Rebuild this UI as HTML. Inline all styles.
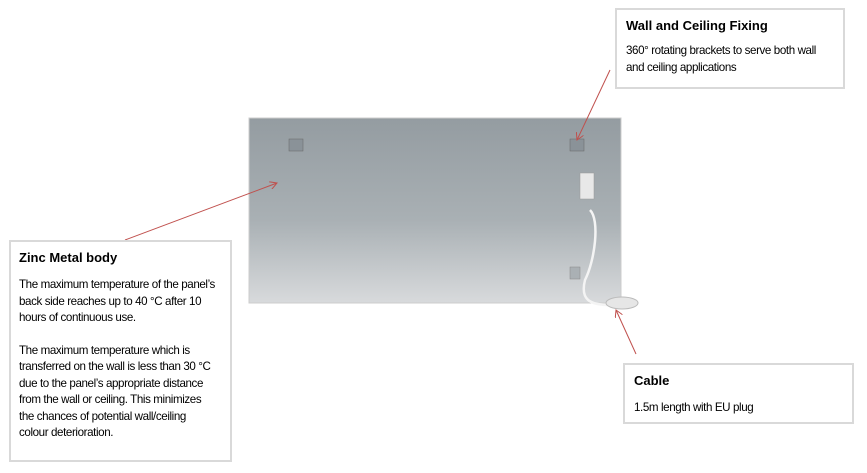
<!DOCTYPE html>
<html><head><meta charset="utf-8"><style>
body{margin:0;width:867px;height:473px;background:#fff;position:relative;overflow:hidden;font-family:"Liberation Sans",sans-serif;color:#000}
.box{position:absolute;border:2px solid #d9d9d9;background:#fff;box-sizing:border-box}
.box h3{margin:0;font-size:13px;font-weight:bold}
.box p{margin:0;font-size:11.6px;line-height:16.5px;letter-spacing:-0.4px;white-space:nowrap}
</style></head><body>
<svg width="867" height="473" style="position:absolute;left:0;top:0">
<defs>
<linearGradient id="g" x1="0" y1="0" x2="0" y2="1">
<stop offset="0" stop-color="#949ca1"/><stop offset="0.55" stop-color="#a9b0b4"/><stop offset="1" stop-color="#d8dadc"/>
</linearGradient>
<marker id="a" markerWidth="8" markerHeight="8" refX="7" refY="4" orient="auto"><path d="M0,0 L7,4 L0,8" fill="none" stroke="#c0504d" stroke-width="1"/></marker>
</defs>
<rect x="249" y="118" width="372" height="185" fill="url(#g)" stroke="#ccc"/>
<rect x="289" y="139" width="14" height="12" fill="#8a9298" stroke="#666" stroke-width="0.5"/>
<rect x="570" y="139" width="14" height="12" fill="#8a9298" stroke="#666" stroke-width="0.5"/>
<rect x="570" y="267" width="10" height="12" fill="#aab0b4" stroke="#888" stroke-width="0.5"/>
<rect x="580" y="173" width="14" height="26" fill="#e8e8e8" stroke="#999" stroke-width="0.5"/>
<path d="M590,210 C600,220 595,260 585,280 C580,300 590,305 610,305" fill="none" stroke="#f4f4f4" stroke-width="2.5"/>
<ellipse cx="622" cy="303" rx="16" ry="6" fill="#e6e6e6" stroke="#bbb"/>
<line x1="125" y1="240" x2="277" y2="183" stroke="#c0504d" stroke-width="1" marker-end="url(#a)"/>
<line x1="610" y1="70" x2="577" y2="140" stroke="#c0504d" stroke-width="1" marker-end="url(#a)"/>
<line x1="636" y1="354" x2="616" y2="310" stroke="#c0504d" stroke-width="1" marker-end="url(#a)"/>
</svg>
<div class="box" style="left:9px;top:240px;width:223px;height:222px;padding:8px 0 0 8px">
<h3>Zinc Metal body</h3>
<p style="margin-top:12px">The maximum temperature of the panel’s<br>back side reaches up to 40 °C after 10<br>hours of continuous use.</p>
<p style="margin-top:16px">The maximum temperature which is<br>transferred on the wall is less than 30 °C<br>due to the panel’s appropriate distance<br>from the wall or ceiling. This minimizes<br>the chances of potential wall/ceiling<br>colour deterioration.</p>
</div>
<div class="box" style="left:615px;top:8px;width:230px;height:81px;padding:8px 0 0 9px">
<h3>Wall and Ceiling Fixing</h3>
<p style="margin-top:10px">360° rotating brackets to serve both wall<br>and ceiling applications</p>
</div>
<div class="box" style="left:623px;top:363px;width:231px;height:61px;padding:8px 0 0 9px">
<h3>Cable</h3>
<p style="margin-top:12px">1.5m length with EU plug</p>
</div>
</body></html>
